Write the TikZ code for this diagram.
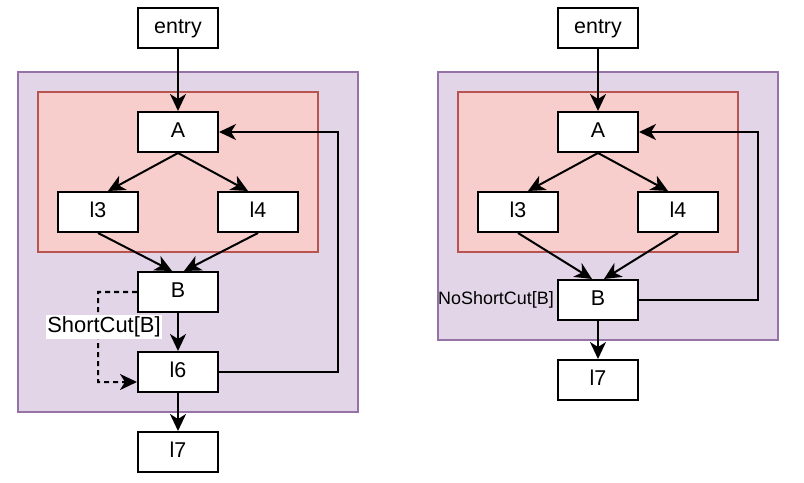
\documentclass[tikz,border=0pt]{standalone}
\usepackage{fontspec}
\setmainfont{Liberation Sans}
\usetikzlibrary{arrows.meta}
\definecolor{purplefill}{HTML}{E1D5E7}
\definecolor{purpleline}{HTML}{9673A6}
\definecolor{redfill}{HTML}{F8CECC}
\definecolor{redline}{HTML}{B85450}
\tikzset{
  blk/.style={draw=black, fill=white, line width=2bp, minimum width=80bp, minimum height=40bp, inner sep=0pt, text height=11.5bp, text depth=0bp, font=\fontsize{21.5}{25}\selectfont},
  outerbox/.style={draw=purpleline, fill=purplefill, line width=2bp},
  innerbox/.style={draw=redline, fill=redfill, line width=2bp},
  edge/.style={draw=black, line width=2bp, -{Stealth[length=17bp, width=16bp, inset=5bp]}},
  dedge/.style={edge, dash pattern=on 5bp off 4bp},
  lbl/.style={inner sep=1.5bp, font=\fontsize{22}{25}\selectfont},
  lblsmall/.style={inner sep=1bp, font=\fontsize{18}{20}\selectfont}
}
\begin{document}
\begin{tikzpicture}[x=1bp, y=-1bp]
\useasboundingbox (0,0) rectangle (804,483);
% ---------- left ----------
\path[outerbox] (18,72) rectangle (358,412);
\path[innerbox] (38,92) rectangle (318,252);
\node[blk] (entryL) at (178,28) {entry};
\node[blk] (AL) at (178,132) {A};
\node[blk] (l3L) at (98,212) {l3};
\node[blk] (l4L) at (258,212) {l4};
\node[blk] (BL) at (178,292) {B};
\node[blk] (l6L) at (178,372) {l6};
\node[blk] (l7L) at (178,452) {l7};
\draw[edge] (entryL.south) -- (AL.north);
\draw[edge] (AL.south) -- ([xshift=10bp]l3L.north);
\draw[edge] (AL.south) -- ([xshift=-10bp]l4L.north);
\draw[edge] (l3L.south) -- ([xshift=-6bp]BL.north);
\draw[edge] (l4L.south) -- ([xshift=6bp]BL.north);
\draw[edge] (BL.south) -- (l6L.north);
\draw[edge] (l6L.south) -- (l7L.north);
\draw[edge] (l6L.east) -- (338,372) -- (338,132) -- (AL.east);
\coordinate (dc1) at (98,292);
\coordinate (dc2) at (98,382);
\draw[dedge] (BL.west) -- (dc1) -- (dc2) -- ([yshift=-10bp]l6L.west);
\node[lbl, fill=white] (scL) at (104,327) {ShortCut[B]};
% ---------- right ----------
\path[outerbox] (438,72) rectangle (778,340);
\path[innerbox] (458,92) rectangle (738,252);
\node[blk] (entryR) at (598,28) {entry};
\node[blk] (AR) at (598,132) {A};
\node[blk] (l3R) at (518,212) {l3};
\node[blk] (l4R) at (678,212) {l4};
\node[blk] (BR) at (598,300) {B};
\node[blk] (l7R) at (598,380) {l7};
\draw[edge] (entryR.south) -- (AR.north);
\draw[edge] (AR.south) -- ([xshift=10bp]l3R.north);
\draw[edge] (AR.south) -- ([xshift=-10bp]l4R.north);
\draw[edge] (l3R.south) -- ([xshift=-6bp]BR.north);
\draw[edge] (l4R.south) -- ([xshift=6bp]BR.north);
\draw[edge] (BR.south) -- (l7R.north);
\draw[edge] (BR.east) -- (758,300) -- (758,132) -- (AR.east);
\node[lblsmall, anchor=east] (nscR) at (555,300) {NoShortCut[B]};
\end{tikzpicture}
\end{document}
